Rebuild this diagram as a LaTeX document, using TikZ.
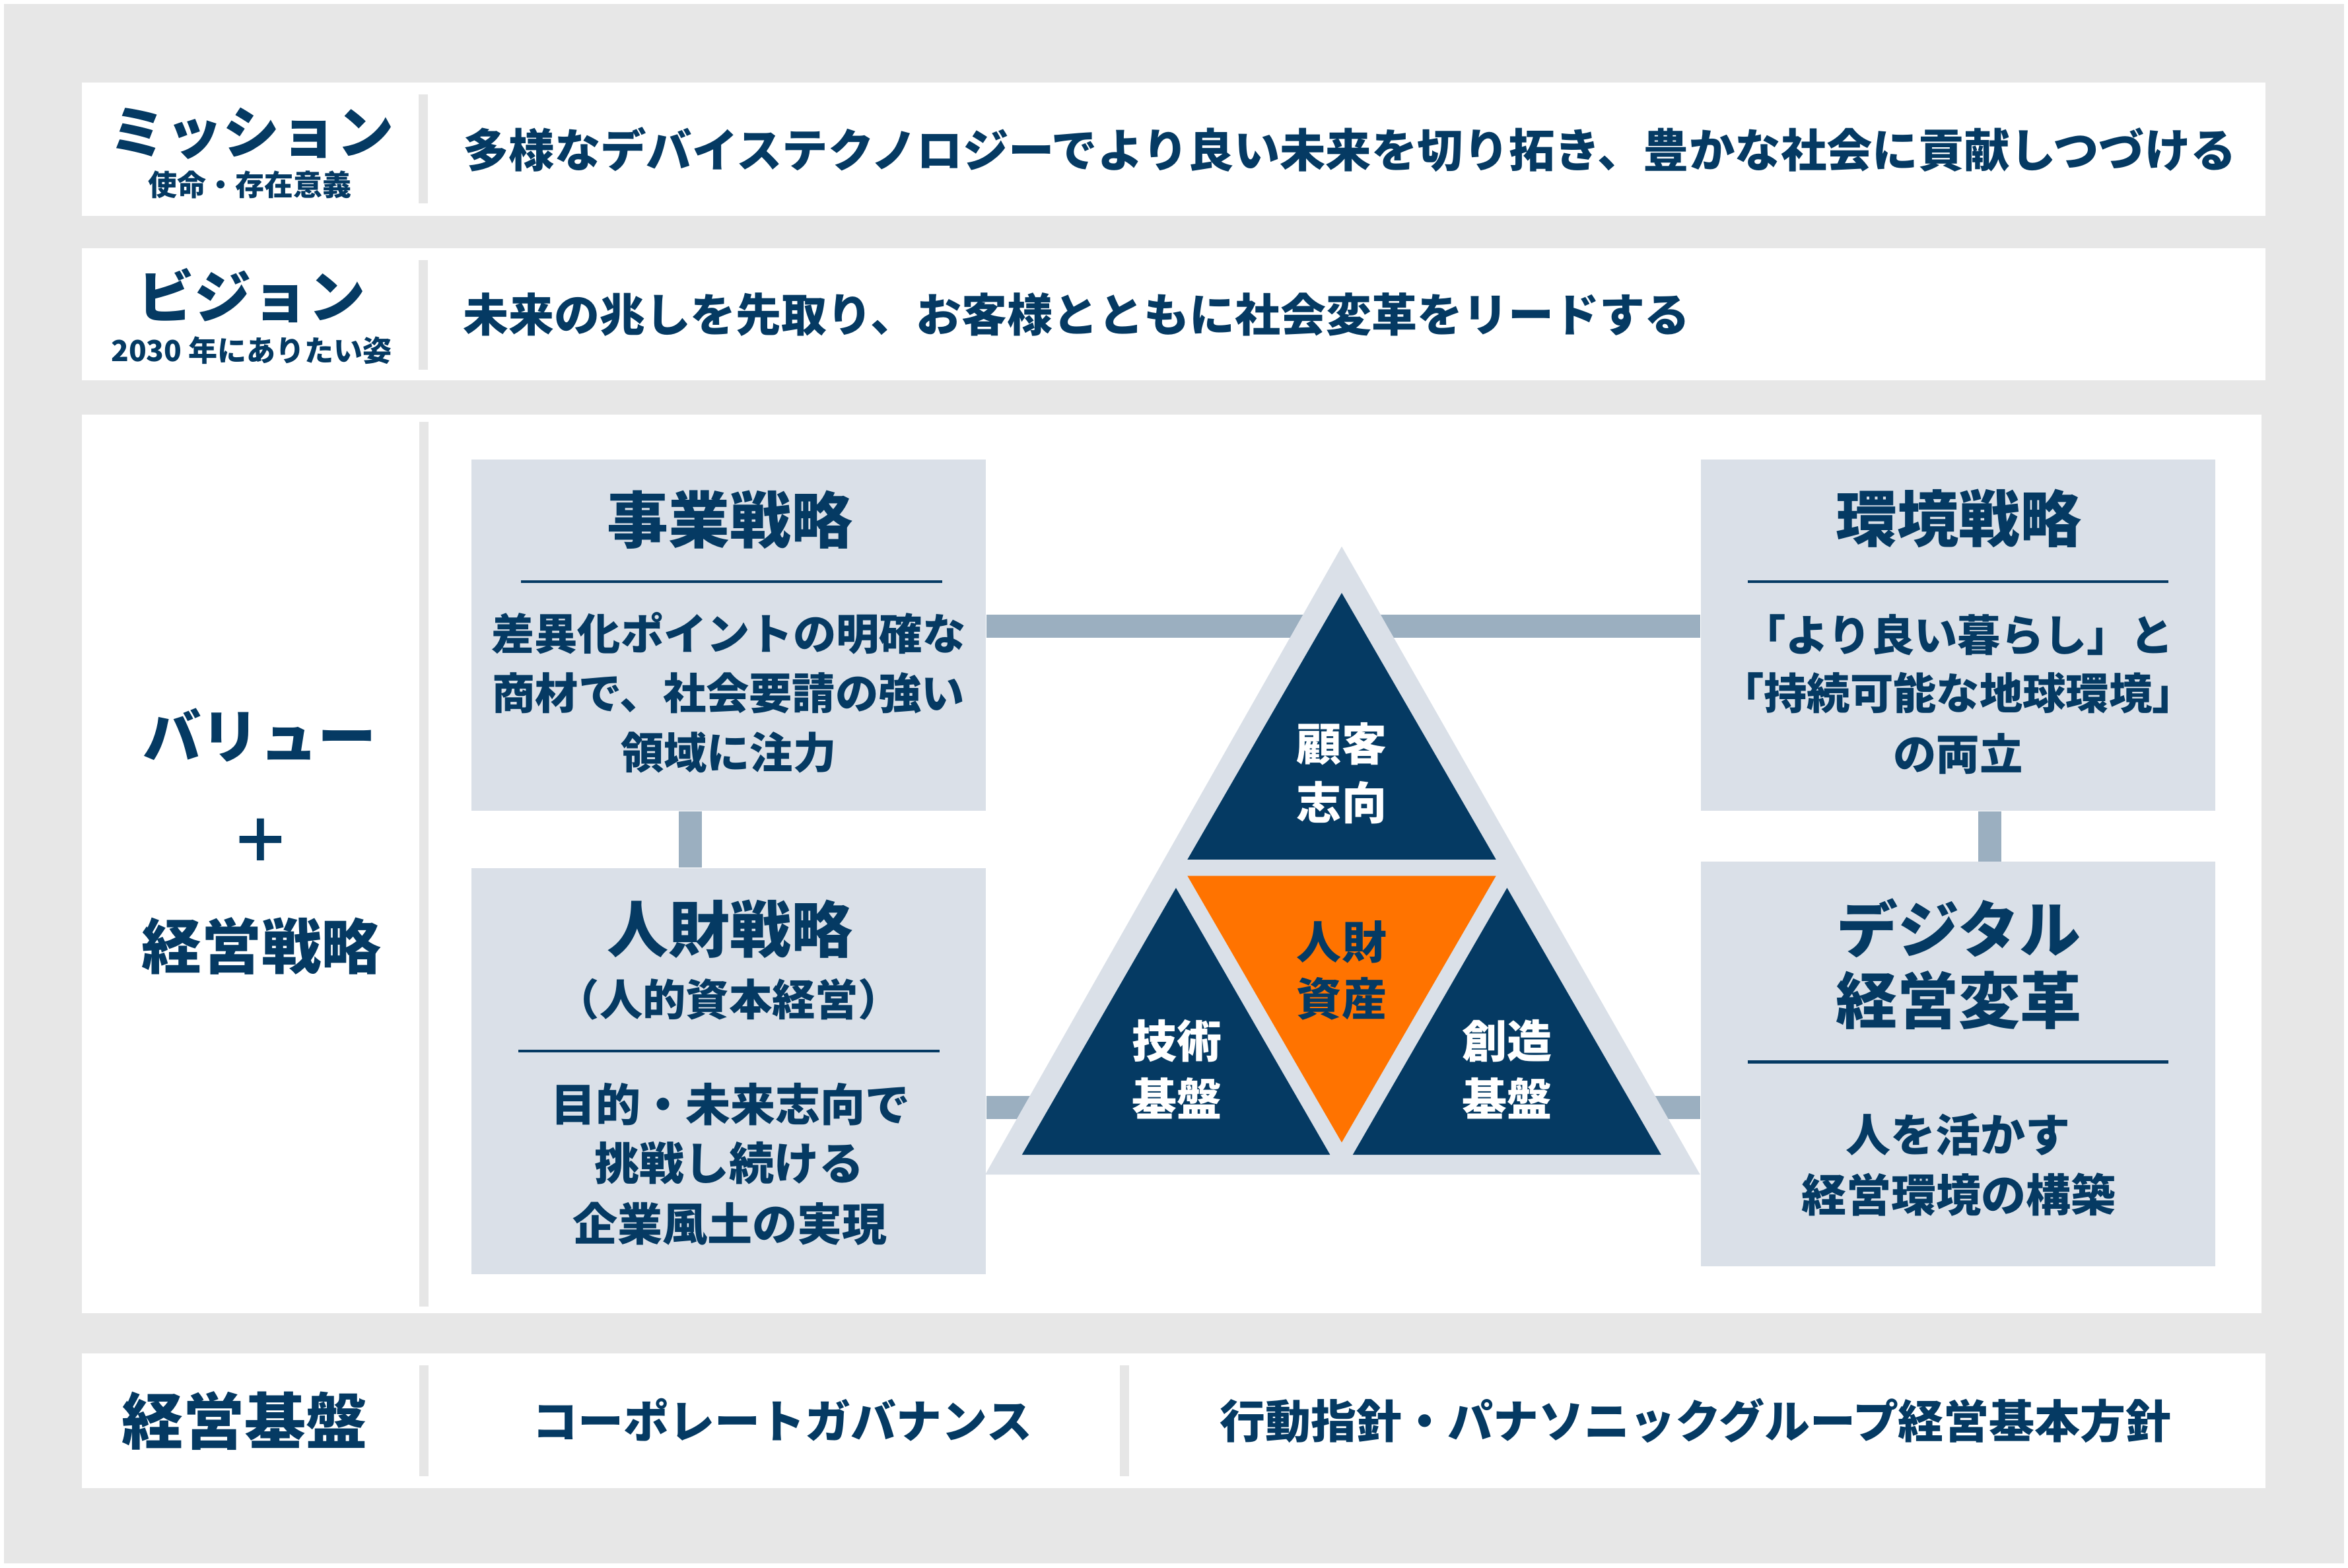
\documentclass[tikz,border=0pt]{standalone}
\usepackage{fontspec}
\setmainfont{Noto Sans CJK JP}
\IfFontExistsTF{Noto Sans CJK JP Black}{\newfontfamily\jpheavy{Noto Sans CJK JP Black}}{\newcommand\jpheavy{\bfseries}}
\definecolor{navy}{HTML}{053A63}
\definecolor{bggray}{HTML}{E7E7E7}
\definecolor{divgray}{HTML}{E6E6E6}
\definecolor{boxblue}{HTML}{DAE0E8}
\definecolor{connblue}{HTML}{9BAFC0}
\definecolor{accent}{HTML}{FF7300}
\tikzset{
  panel/.style={fill=white, draw=none},
  divider/.style={draw=divgray, line width=6.3pt},
  stratbox/.style={fill=boxblue, draw=none, inner sep=0pt, minimum width=343.7pt},
  conn/.style={draw=connblue, line width=15.5pt},
  rule/.style={draw=navy, line width=2pt},
  txt/.style={inner sep=0pt, anchor=base, text=navy},
  head/.style={txt, font=\jpheavy\fontsize{41}{41}\selectfont},
  lefthead/.style={txt, font=\jpheavy\fontsize{40}{40}\selectfont},
  katahead/.style={txt, font=\jpheavy\fontsize{38}{38}\selectfont},
  sub/.style={txt, font=\bfseries\fontsize{19.4}{19.4}\selectfont},
  mainline/.style={txt, anchor=base west, font=\bfseries\fontsize{30.6}{30.6}\selectfont},
  visline/.style={txt, anchor=base west, font=\bfseries\fontsize{30.4}{30.4}\selectfont},
  body/.style={txt, font=\bfseries\fontsize{28.8}{28.8}\selectfont},
  bodyl/.style={txt, font=\bfseries\fontsize{30}{30}\selectfont},
  tri/.style={txt, font=\bfseries\fontsize{30}{30}\selectfont},
  foot/.style={txt, font=\bfseries\fontsize{30.4}{30.4}\selectfont},
}
\begin{document}
\begin{tikzpicture}[x=1pt,y=-1pt]
\useasboundingbox (0,0) rectangle (1568,1047);
\fill[white] (0,0) rectangle (1568,1047);
\fill[bggray] (2.7,2.7) rectangle (1565.3,1044.3);

% ---------- panels ----------
\fill[panel] (54.5,55) rectangle (1512.8,144.4);
\fill[panel] (54.5,166) rectangle (1512.8,254);
\fill[panel] (54.5,276.7) rectangle (1510,877);
\fill[panel] (54.5,904) rectangle (1512.8,994);

% dividers
\draw[divider] (282.7,63) -- (282.7,136);
\draw[divider] (282.7,173.7) -- (282.7,246.8);
\draw[divider] (283,281.7) -- (283,872.6);
\draw[divider] (283,912) -- (283,986);
\draw[divider] (751,912) -- (751,986);

% ---------- mission ----------
\node[katahead] (mis) at (168,102.5) {ミッション};
\node[sub] (missub) at (167,130.6) {使命・存在意義};
\node[mainline] (mistext) at (309,111.6) {多様なデバイステクノロジーでより良い未来を切り拓き、豊かな社会に貢献しつづける};

% ---------- vision ----------
\node[katahead] (vis) at (168,212.5) {ビジョン};
\node[sub] (vissub) at (168,241.4) {2030 年にありたい姿};
\node[visline] (vistext) at (309,221.5) {未来の兆しを先取り、お客様とともに社会変革をリードする};

% ---------- values ----------
\node[txt, font=\jpheavy\fontsize{39}{39}\selectfont] (val) at (173.3,506.4) {バリュー};
\node[lefthead] (plus) at (174,576.2) {＋};
\node[lefthead] (mgmt) at (174.7,647.2) {経営戦略};

% ---------- strategy boxes ----------
\node[stratbox, minimum height=234.6pt] (biz) at (486.5,424.2) {};
\node[stratbox, minimum height=271.2pt] (hr) at (486.5,715.4) {};
\node[stratbox, minimum height=234.6pt] (env) at (1307.6,424.2) {};
\node[stratbox, minimum height=270.1pt] (dx) at (1307.6,710.65) {};

% connectors
\coordinate (topbar) at (0,418.1);
\coordinate (botbar) at (0,739.6);
\coordinate (lvert) at (461,0);
\coordinate (rvert) at (1328.6,0);
\draw[conn] (biz.east |- topbar) -- (env.west |- topbar);
\draw[conn] (hr.east |- botbar) -- (dx.west |- botbar);
\draw[conn] (biz.south -| lvert) -- (hr.north -| lvert);
\draw[conn] (env.south -| rvert) -- (dx.north -| rvert);

% box texts
\node[head] (biztitle) at (487.5,362.6) {事業戦略};
\draw[rule] (347.8,388.4) -- (629.3,388.4);
\node[body] (biz1) at (486.5,434) {差異化ポイントの明確な};
\node[body] (biz2) at (486.5,474) {商材で、社会要請の強い};
\node[body] (biz3) at (486.5,513.6) {領域に注力};

\node[head] (hrtitle) at (487.5,636) {人財戦略};
\node[body] (hrsub) at (486.8,678.4) {（人的資本経営）};
\draw[rule] (346.3,702) -- (627.6,702);
\node[bodyl] (hr1) at (488,749) {目的・未来志向で};
\node[bodyl] (hr2) at (487,788) {挑戦し続ける};
\node[bodyl] (hr3) at (487.5,828.7) {企業風土の実現};

\node[head] (envtitle) at (1308,362) {環境戦略};
\draw[rule] (1167,388.4) -- (1448,388.4);
\node[body] (env1) at (1307.6,434.8) {「より良い暮らし」と};
\node[body] (env2) at (1307.6,473.9) {「持続可能な地球環境」};
\node[body] (env3) at (1307.6,514.5) {の両立};

\node[head] (dxtitle1) at (1308,636) {デジタル};
\node[head] (dxtitle2) at (1308,683.8) {経営変革};
\draw[rule] (1167,709.2) -- (1448,709.2);
\node[bodyl] (dx1) at (1307.6,769.2) {人を活かす};
\node[bodyl] (dx2) at (1308,809.2) {経営環境の構築};

% ---------- pyramid ----------
\fill[boxblue] (896,365) -- (657.9,784.5) -- (1135.3,784.5) -- cycle;
\fill[navy] (896,396) -- (793,574) -- (999,574) -- cycle;
\fill[accent] (793,585) -- (999,585) -- (896,763) -- cycle;
\fill[navy] (785.3,593) -- (682.5,771.2) -- (888.2,771.2) -- cycle;
\fill[navy] (1006.4,593) -- (903.4,771.2) -- (1109.3,771.2) -- cycle;

\node[tri, text=white] (cust1) at (896,508.4) {顧客};
\node[tri, text=white] (cust2) at (896,547.4) {志向};
\node[tri] (hum1) at (896,640.4) {人財};
\node[tri] (hum2) at (896,678.4) {資産};
\node[tri, text=white] (tech1) at (786,706.4) {技術};
\node[tri, text=white] (tech2) at (786,745.4) {基盤};
\node[tri, text=white] (cre1) at (1006.4,706.4) {創造};
\node[tri, text=white] (cre2) at (1006.4,745.4) {基盤};

% ---------- foundation ----------
\node[head] (found) at (163.5,964.5) {経営基盤};
\node[foot] (gov) at (522.4,960.4) {コーポレートガバナンス};
\node[foot] (policy) at (1132.4,960.4) {行動指針・パナソニックグループ経営基本方針};
\end{tikzpicture}
\end{document}
